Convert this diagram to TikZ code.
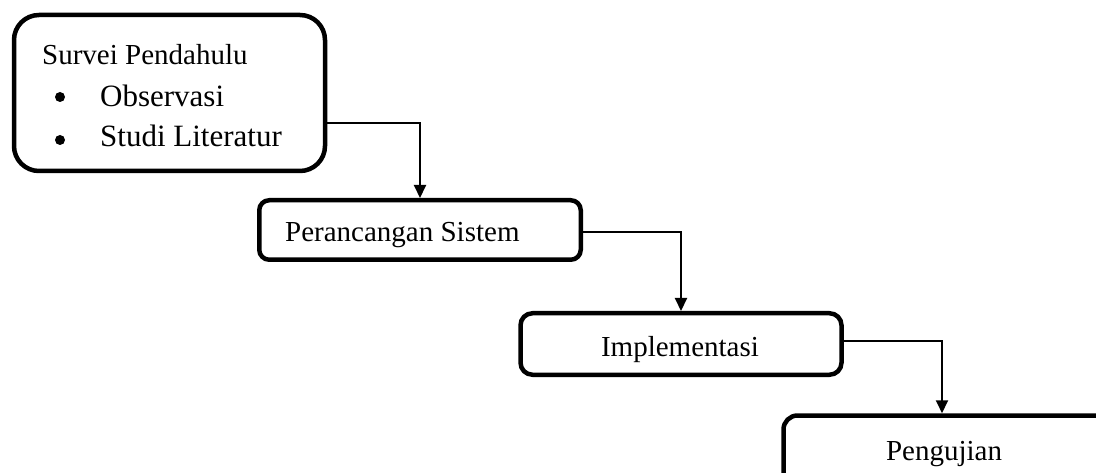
\documentclass[tikz,border=0pt]{standalone}
\usepackage{fontspec}
\setmainfont{Liberation Serif}
\usetikzlibrary{arrows.meta}
\begin{document}
\begin{tikzpicture}[x=1pt,y=-1pt,
  stage/.style={draw=black, line width=4.5pt, fill=white, inner sep=0pt},
  lbl/.style={inner sep=0pt, font=\fontsize{29}{34}\selectfont},
  item/.style={inner sep=0pt, font=\fontsize{31}{36}\selectfont},
  dot/.style={circle, fill=black, inner sep=0pt, minimum size=10pt},
  conn/.style={draw=black, line width=2pt, -{Triangle[length=13pt,width=12pt]}}]
% page frame
\useasboundingbox (0,0) rectangle (1096,473);
\clip (0,0) rectangle (1096,473);

% stage boxes
\node[stage, rounded corners=25pt, minimum width=311pt, minimum height=156pt] (b1) at (169.5,93) {};
\node[stage, rounded corners=10pt, minimum width=321.5pt, minimum height=59.5pt] (b2) at (420,230) {};
\node[stage, rounded corners=12pt, minimum width=321pt, minimum height=61.5pt] (b3) at (681,344) {};
\node[stage, rounded corners=14pt, minimum width=340pt, minimum height=75pt] (b4) at (953.5,453) {};

% first stage contents
\node[lbl, anchor=base west] (t1) at (42,65) {Survei Pendahulu};
\node[dot] (d1) at (60,97) {};
\node[item, anchor=base west] (t1a) at (100,107) {Observasi};
\node[dot] (d2) at (60,140) {};
\node[item, anchor=base west] (t1b) at (100,147) {Studi Literatur};

% remaining stage labels
\node[lbl, anchor=base west] (t2) at (285,242) {Perancangan Sistem};
\node[lbl, anchor=base] (t3) at (680,356) {Implementasi};
\node[lbl, anchor=base] (t4) at (944,460) {Pengujian};

% connectors
\draw[conn] ([yshift=-30pt]b1.east) -| (b2.north);
\draw[conn] ([yshift=-2pt]b2.east) -| (b3.north);
\draw[conn] ([yshift=3pt]b3.east) -| ([xshift=-11.5pt]b4.north);
\end{tikzpicture}
\end{document}
